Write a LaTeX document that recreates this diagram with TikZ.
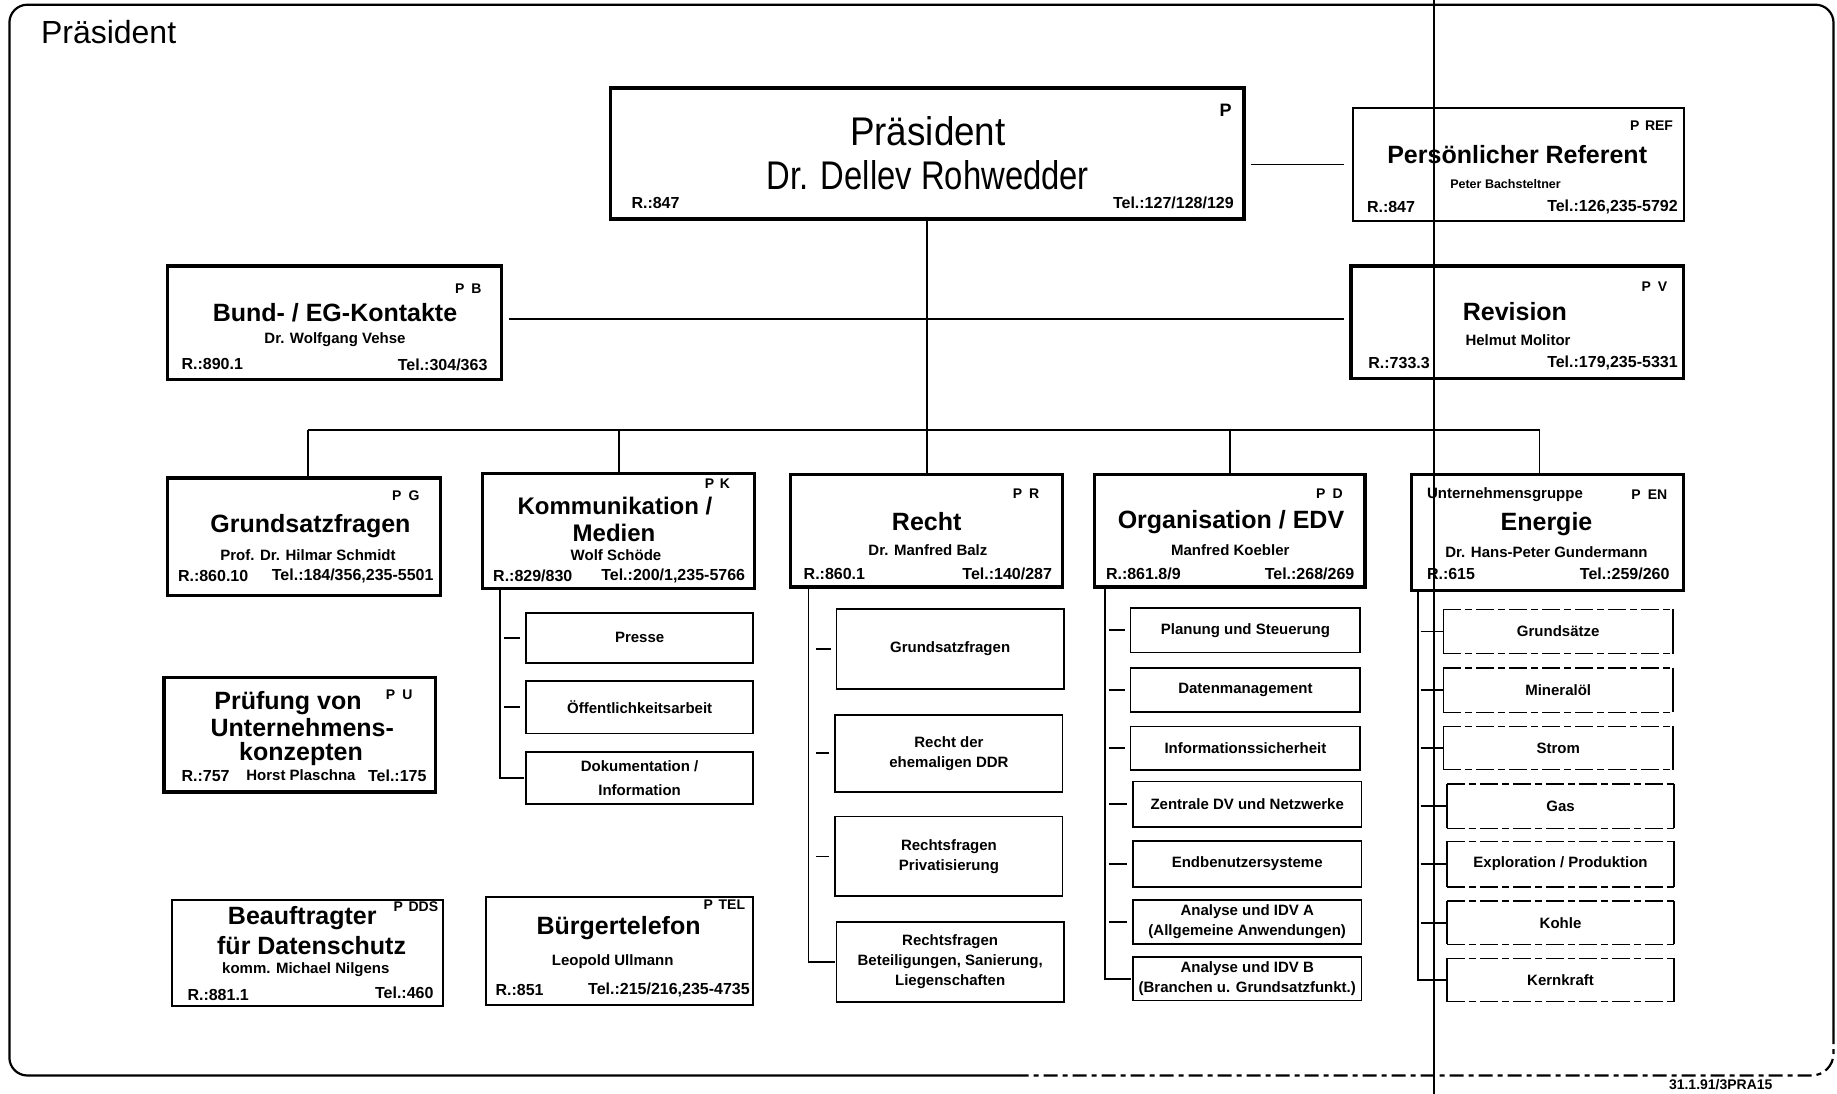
\documentclass[tikz,border=0pt]{standalone}
\usepackage{graphicx}
\usepackage{fontspec}
\setmainfont{Liberation Sans}
\usetikzlibrary{fit}
% horizontally condensed text
\newcommand\narrowed[2]{\scalebox{#1}[1]{#2}}

\tikzset{
  every node/.style={inner sep=0pt, outer sep=0pt},
  frame/.style={line width=2.2pt},
  link/.style={line width=1.8pt},
  thickbox/.style={draw, line width=3.2pt},
  thinbox/.style={draw, line width=2pt},
  subbox/.style={draw, line width=1.7pt},
  subtext/.style={align=center, font=\bfseries\fontsize{15}{20}\selectfont},
  scanedge/.style={draw, line width=1.4pt, dash pattern=on 18pt off 4pt on 7pt off 4pt},
  sideedge/.style={draw, line width=1.8pt},
  scanbox/.style={
    append after command={
      (\tikzlastnode.north west) edge[scanedge] (\tikzlastnode.north east)
      (\tikzlastnode.south west) edge[scanedge] (\tikzlastnode.south east)
      (\tikzlastnode.north west) edge[sideedge] (\tikzlastnode.south west)
      (\tikzlastnode.north east) edge[sideedge] (\tikzlastnode.south east)}},
  headf/.style={font=\bfseries\fontsize{25}{28}\selectfont, align=center},
  namef/.style={font=\bfseries\fontsize{15}{18}\selectfont},
  idf/.style={font=\bfseries\fontsize{16}{18}\selectfont},
  codef/.style={font=\bfseries\fontsize{14}{16}\selectfont},
}
% sub-unit box: style, name, x1, y1, x2, y2, text
\newcommand\subunit[7]{%
  \node[#1, fit={(#3,#4) (#5,#6)}] (#2) {};
  \node[subtext] (#2-t) at (#2.center) {#7};}

\begin{document}
\begin{tikzpicture}[x=1pt,y=-1pt]
\useasboundingbox (0,0) rectangle (1837,1094);
\clip (0,0) rectangle (1837,1094);

% outer frame
\draw[frame, rounded corners=18pt] (1020,1075.5) -- (9.4,1075.5) -- (9.4,4.7) -- (1833.5,4.7) -- (1833.5,1030);
\draw[frame, dash pattern=on 14pt off 5pt on 5pt off 5pt, rounded corners=22pt] (1833.5,1030) -- (1833.5,1075.5) -- (1020,1075.5);
\node[anchor=west, font=\fontsize{32}{36}\selectfont] (title) at (41,31.6) {Präsident};

% ---------- top level ----------
\node[thickbox, line width=3.6pt, fit={(610.4,87.9) (1244.2,219.1)}] (pres) {};
\node[font=\fontsize{40}{44}\selectfont] (presT) at (927.9,131.2) {\narrowed{0.92}{Präsident}};
\node[font=\fontsize{40}{44}\selectfont] (presN) at (927.9,175.7) {\narrowed{0.82}{Dr. Dellev Rohwedder}};
\node[font=\bfseries\fontsize{18}{20}\selectfont] (presC) at (1225.5,110) {P};
\node[idf, anchor=west] (presR) at (631.5,202.7) {R.:847};
\node[idf, anchor=east] (presTel) at (1233.7,202.7) {Tel.:127/128/129};

\node[thinbox, fit={(1353.2,107.8) (1683.6,221.4)}] (ref) {};
\node[codef, anchor=east] (refC) at (1673,125.4) {P\hspace{0.4em}REF};
\node[headf] (refT) at (1517.2,154.6) {Persönlicher Referent};
\node[font=\bfseries\fontsize{12.5}{14}\selectfont] (refN) at (1505.5,184) {Peter Bachsteltner};
\node[idf, anchor=west] (refR) at (1367,207.4) {R.:847};
\node[idf, anchor=east] (refTel) at (1677.7,207.4) {Tel.:126,235-5792};

\node[thickbox, fit={(167.5,266) (501.4,379.6)}] (pb) {};
\node[codef, anchor=east] (pbC) at (481.5,288.2) {P\hspace{0.5em}B};
\node[headf] (pbT) at (335,312.8) {Bund- / EG-Kontakte};
\node[namef] (pbN) at (335,339.8) {Dr. Wolfgang Vehse};
\node[idf, anchor=west] (pbR) at (181.6,364.4) {R.:890.1};
\node[idf, anchor=east] (pbTel) at (487.4,364.4) {Tel.:304/363};

\node[thickbox, fit={(1350.9,266) (1683.6,378.4)}] (pv) {};
\node[codef, anchor=east] (pvC) at (1667.2,287) {P\hspace{0.5em}V};
\node[headf] (pvT) at (1514.9,311.6) {Revision};
\node[namef] (pvN) at (1518,339.8) {Helmut Molitor};
\node[idf, anchor=west] (pvR) at (1368.4,363.2) {R.:733.3};
\node[idf, anchor=east] (pvTel) at (1677.7,363.2) {Tel.:179,235-5331};

% ---------- departments ----------
\node[thickbox, fit={(167.5,478) (440.5,595.2)}] (pg) {};
\node[codef, anchor=east] (pgC) at (419.4,495.6) {P\hspace{0.5em}G};
\node[headf] (pgT) at (310.5,526) {Grundsatzfragen};
\node[namef] (pgN) at (308,555.3) {Prof. Dr. Hilmar Schmidt};
\node[idf, anchor=west] (pgR) at (178,576.4) {R.:860.10};
\node[idf, anchor=east] (pgTel) at (433.5,576.4) {Tel.:184/356,235-5501};

\node[thickbox, fit={(482.7,473.3) (754.5,588.1)}] (pk) {};
\node[codef, anchor=east] (pkC) at (730,484) {P\hspace{0.4em}K};
\node[headf, font=\bfseries\fontsize{24}{27}\selectfont] (pkT) at (615,506.3) {Kommunikation /};
\node[headf, font=\bfseries\fontsize{24}{27}\selectfont] (pkT2) at (614,533.3) {Medien};
\node[namef] (pkN) at (616,555.5) {Wolf Schöde};
\node[idf, anchor=west] (pkR) at (493.2,575.8) {R.:829/830};
\node[idf, anchor=east] (pkTel) at (745.1,575.8) {Tel.:200/1,235-5766};

\node[thickbox, fit={(790.8,474.5) (1062.6,587)}] (pr) {};
\node[codef, anchor=east] (prC) at (1039.2,493.2) {P\hspace{0.5em}R};
\node[headf] (prT) at (926.7,521.4) {Recht};
\node[namef] (prN) at (927.9,550.6) {Dr. Manfred Balz};
\node[idf, anchor=west] (prR) at (803.7,574) {R.:860.1};
\node[idf, anchor=east] (prTel) at (1052,574) {Tel.:140/287};

\node[thickbox, fit={(1094.3,474.5) (1364.9,587)}] (pd) {};
\node[codef, anchor=east] (pdC) at (1342.6,493.2) {P\hspace{0.5em}D};
\node[headf] (pdT) at (1231,522.5) {Organisation / EDV};
\node[namef] (pdN) at (1230.3,550.6) {Manfred Koebler};
\node[idf, anchor=west] (pdR) at (1106,574) {R.:861.8/9};
\node[idf, anchor=east] (pdTel) at (1354.3,574) {Tel.:268/269};

\node[thickbox, fit={(1411.8,474.5) (1683.6,590.5)}] (pen) {};
\node[namef, anchor=west] (penG) at (1427,494.4) {Unternehmensgruppe};
\node[codef, anchor=east] (penC) at (1667.2,494.4) {P\hspace{0.5em}EN};
\node[headf] (penT) at (1546.5,523.7) {Energie};
\node[namef] (penN) at (1546.5,551.8) {Dr. Hans-Peter Gundermann};
\node[idf, anchor=west] (penR) at (1427,574) {R.:615};
\node[idf, anchor=east] (penTel) at (1669.5,574) {Tel.:259/260};

% ---------- staff units ----------
\node[thickbox, fit={(164,677.2) (435.8,792)}] (pu) {};
\node[codef, anchor=east] (puC) at (412.4,694.7) {P\hspace{0.5em}U};
\node[headf] (puT) at (288,703) {Prüfung von};
\node[headf] (puT2) at (302.3,727.5) {Unternehmens-};
\node[headf] (puT3) at (301,754.5) {konzepten};
\node[idf, anchor=west] (puR) at (181.6,775.6) {R.:757};
\node[namef] (puN) at (301,775.6) {Horst Plaschna};
\node[idf, anchor=east] (puTel) at (426.5,775.6) {Tel.:175};

\node[thinbox, fit={(172.2,899.8) (442.9,1006.4)}] (pdds) {};
\node[codef, anchor=east] (pddsC) at (438.2,906.8) {P\hspace{0.4em}DDS};
\node[headf] (pddsT) at (302.3,918.5) {Beauftragter};
\node[headf] (pddsT2) at (311.6,945.5) {für Datenschutz};
\node[namef] (pddsN) at (305.8,970) {komm. Michael Nilgens};
\node[idf, anchor=west] (pddsR) at (187.5,994.7) {R.:881.1};
\node[idf, anchor=east] (pddsTel) at (433.5,992.3) {Tel.:460};

\node[thinbox, fit={(486.2,897.4) (753.3,1005.2)}] (ptel) {};
\node[codef, anchor=east] (ptelC) at (745.1,904.5) {P\hspace{0.4em}TEL};
\node[headf] (ptelT) at (618.6,927.9) {Bürgertelefon};
\node[namef] (ptelN) at (612.7,961.9) {Leopold Ullmann};
\node[idf, anchor=west] (ptelR) at (495.6,990) {R.:851};
\node[idf, anchor=east] (ptelTel) at (749.8,990) {Tel.:215/216,235-4735};

% ---------- sub-units ----------
\subunit{subbox}{presse}{526}{612.7}{753.3}{663.1}{Presse}
\subunit{subbox}{oeff}{526}{680.7}{753.3}{733.4}{Öffentlichkeitsarbeit}
\subunit{subbox}{doku}{526}{752.2}{753.3}{803.7}{Dokumentation /\\[4pt]Information}

\subunit{subbox}{rgs}{836.5}{609.2}{1063.8}{688.9}{Grundsatzfragen}
\subunit{subbox}{rddr}{835.3}{714.7}{1062.6}{792}{Recht der\\ehemaligen DDR}
\subunit{subbox}{rpriv}{835.3}{816.6}{1062.6}{896.3}{Rechtsfragen\\Privatisierung}
\subunit{subbox}{rbet}{836.5}{922}{1063.8}{1001.7}{Rechtsfragen\\Beteiligungen, Sanierung,\\Liegenschaften}

\subunit{subbox}{dplan}{1130.6}{608}{1360.2}{652.6}{Planung und Steuerung}
\subunit{subbox}{ddat}{1130.6}{667.8}{1360.2}{712.3}{Datenmanagement}
\subunit{subbox}{dinf}{1130.6}{726.4}{1360.2}{769.7}{Informationssicherheit}
\subunit{subbox}{dzen}{1133}{781.4}{1361.4}{827.1}{Zentrale DV und Netzwerke}
\subunit{subbox}{dend}{1133}{841.2}{1361.4}{886.9}{Endbenutzersysteme}
\subunit{subbox}{dana}{1133}{899.8}{1361.4}{944.3}{Analyse und IDV A\\(Allgemeine Anwendungen)}
\subunit{subbox}{danb}{1133}{957.2}{1361.4}{1000.5}{Analyse und IDV B\\(Branchen u. Grundsatzfunkt.)}

\subunit{scanbox}{egs}{1443.4}{609.2}{1673}{653.7}{Grundsätze}
\subunit{scanbox}{emin}{1443.4}{667.8}{1673}{712.3}{Mineralöl}
\subunit{scanbox}{estr}{1443.4}{726.4}{1673}{769.7}{Strom}
\subunit{scanbox}{egas}{1446.9}{783.8}{1674.2}{828.3}{Gas}
\subunit{scanbox}{eexp}{1446.9}{841.2}{1674.2}{886.9}{Exploration / Produktion}
\subunit{scanbox}{ekoh}{1446.9}{901}{1674.2}{944.3}{Kohle}
\subunit{scanbox}{eker}{1446.9}{958.3}{1674.2}{1001.7}{Kernkraft}

% ---------- connectors ----------
\draw[link, shorten <=7pt, shorten >=9pt] (ref.west -| pres.east) -- (ref.west);
\draw[link, shorten <=8pt, shorten >=7pt] ([yshift=4pt]pb.east) -- ([yshift=4pt]pb.east -| pv.west);

\coordinate (busL) at (308.1,430);
\coordinate (busR) at (1539.5,430);
\draw[link] (pres.south) -- (pres.south |- busL);
\draw[link] (busL) -- (busR);
\draw[link] (busL) -- (busL |- pg.north);
\draw[link] (pk.north |- busL) -- (pk.north);
\draw[link] (pr.north |- busL) -- (pr.north);
\draw[link] (pd.north |- busL) -- (pd.north);
\draw[link] (busR) -- (busR |- pen.north);

\coordinate (pkt) at (500.3,588.1);
\coordinate (prt) at (808.4,587);
\coordinate (pdt) at (1104.8,587);
\coordinate (pent) at (1417.6,590.5);

\foreach \c in {presse,oeff}
  \draw[link, shorten <=4pt, shorten >=6pt] (pkt |- \c.west) -- (\c.west);
\draw[link, shorten >=2pt] (pkt) |- (doku.west);

\foreach \c in {rgs,rddr,rpriv}
  \draw[link, shorten <=8pt, shorten >=6pt] (prt |- \c.west) -- (\c.west);
\draw[link, shorten >=2pt] (prt) |- (rbet.west);

\foreach \c in {dplan,ddat,dinf,dzen,dend,dana}
  \draw[link, shorten <=4pt, shorten >=6pt] (pdt |- \c.west) -- (\c.west);
\draw[link, shorten >=2pt] (pdt) |- (danb.west);

\foreach \c in {egs,emin,estr,egas,eexp,ekoh}
  \draw[link, shorten <=3pt] (pent |- \c.west) -- (\c.west);
\draw[link] (pent) |- (eker.west);

% filing stamp under the frame
\node[anchor=north west, font=\bfseries\fontsize{14}{16}\selectfont] (stamp) at (1669,1079) {31.1.91/3PRA15};

% vertical rule running through the whole sheet
\coordinate (ruleTop) at (1434,0);
\coordinate (ruleBot) at (1434,1094);
\draw[line width=2.6pt] (ruleTop) -- (ruleBot);
\end{tikzpicture}
\end{document}
